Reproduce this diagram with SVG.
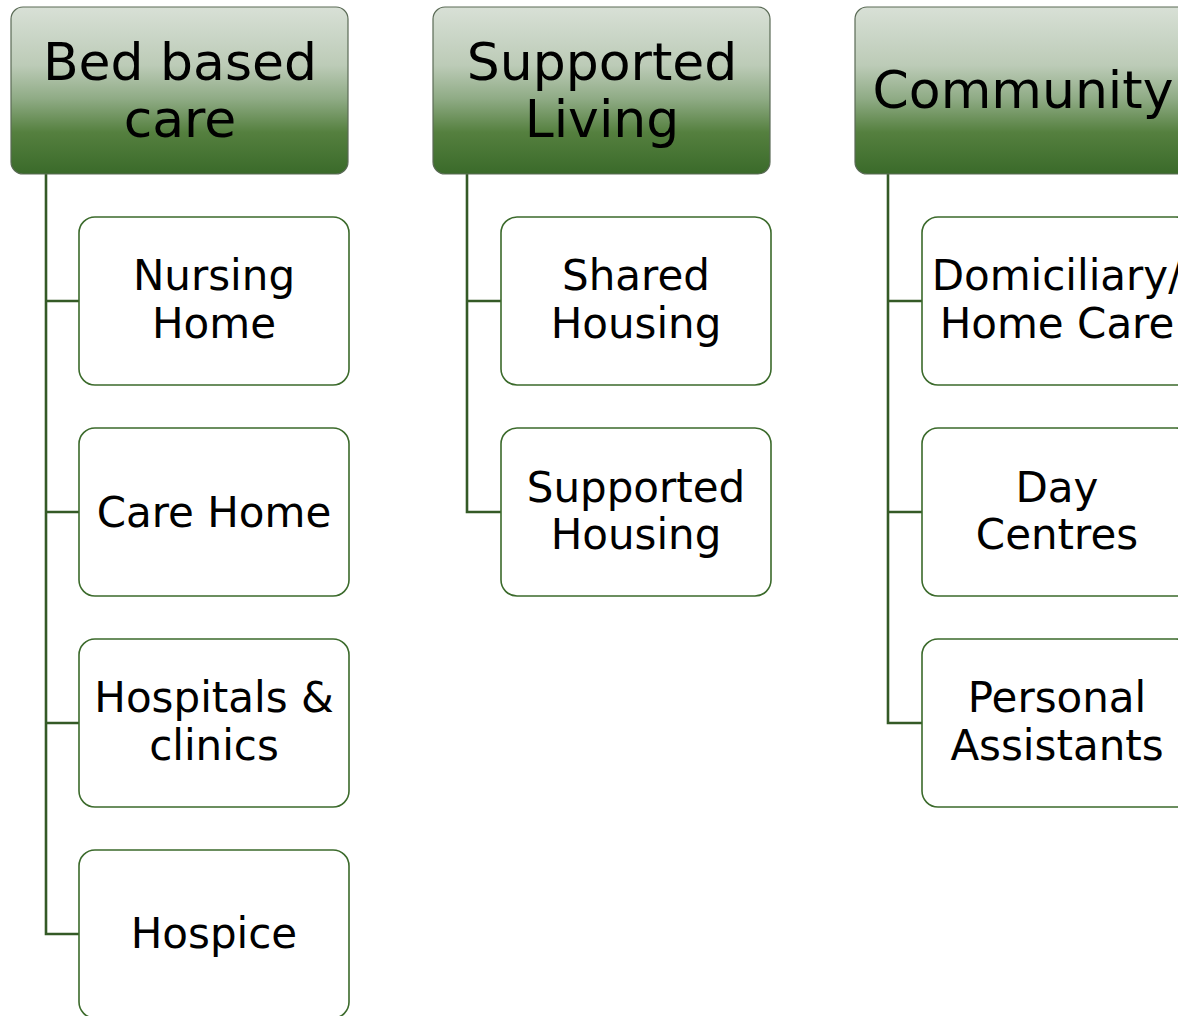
<svg xmlns="http://www.w3.org/2000/svg" width="1178" height="1016" viewBox="0 0 1178 1016">
<style>
.hdr{stroke:#5a6a55;stroke-width:1.2;fill:url(#hg)}
.box{fill:#ffffff;stroke:#3b6a2b;stroke-width:1.6}
.ht{font-family:"DejaVu Sans",sans-serif;font-size:52px;fill:#000;text-anchor:middle}
.bt{font-family:"DejaVu Sans",sans-serif;font-size:42px;fill:#000;text-anchor:middle}
.con{fill:none;stroke:#345a26;stroke-width:2.6}
</style>
<defs>
<linearGradient id="hg" x1="0" y1="0" x2="0" y2="1">
<stop offset="0" stop-color="#d8e0d6"/>
<stop offset="0.35" stop-color="#bccbb7"/>
<stop offset="0.55" stop-color="#8fab85"/>
<stop offset="0.75" stop-color="#55803f"/>
<stop offset="1" stop-color="#3a6a2a"/>
</linearGradient>
</defs>
<g id="connectors">
<path class="con" d="M46 174V934H79M46 301H79M46 512H79M46 723H79"/>
<path class="con" d="M467 174V512H501M467 301H501"/>
<path class="con" d="M888 174V723H922M888 301H922M888 512H922"/>
</g>
<g id="h1"><rect class="hdr" x="11" y="7" width="337" height="167" rx="12"/><text class="ht" x="180" y="80">Bed based</text><text class="ht" x="180" y="137">care</text></g>
<g id="h2"><rect class="hdr" x="433" y="7" width="337" height="167" rx="12"/><text class="ht" x="602" y="80">Supported</text><text class="ht" x="602" y="137">Living</text></g>
<g id="h3"><rect class="hdr" x="855" y="7" width="337" height="167" rx="12"/><text class="ht" x="1023" y="108">Community</text></g>
<g id="n1"><rect class="box" x="79" y="217" width="270" height="168" rx="16"/><text class="bt" x="214" y="290">Nursing</text><text class="bt" x="214" y="338">Home</text></g>
<g id="n2"><rect class="box" x="79" y="428" width="270" height="168" rx="16"/><text class="bt" x="214" y="527">Care Home</text></g>
<g id="n3"><rect class="box" x="79" y="639" width="270" height="168" rx="16"/><text class="bt" x="214" y="712">Hospitals &amp;</text><text class="bt" x="214" y="760">clinics</text></g>
<g id="n4"><rect class="box" x="79" y="850" width="270" height="168" rx="16"/><text class="bt" x="214" y="948">Hospice</text></g>
<g id="n5"><rect class="box" x="501" y="217" width="270" height="168" rx="16"/><text class="bt" x="636" y="290">Shared</text><text class="bt" x="636" y="338">Housing</text></g>
<g id="n6"><rect class="box" x="501" y="428" width="270" height="168" rx="16"/><text class="bt" x="636" y="502">Supported</text><text class="bt" x="636" y="549">Housing</text></g>
<g id="n7"><rect class="box" x="922" y="217" width="270" height="168" rx="16"/><text class="bt" x="1057" y="290">Domiciliary/</text><text class="bt" x="1057" y="338">Home Care</text></g>
<g id="n8"><rect class="box" x="922" y="428" width="270" height="168" rx="16"/><text class="bt" x="1057" y="502">Day</text><text class="bt" x="1057" y="549">Centres</text></g>
<g id="n9"><rect class="box" x="922" y="639" width="270" height="168" rx="16"/><text class="bt" x="1057" y="712">Personal</text><text class="bt" x="1057" y="760">Assistants</text></g>
</svg>
